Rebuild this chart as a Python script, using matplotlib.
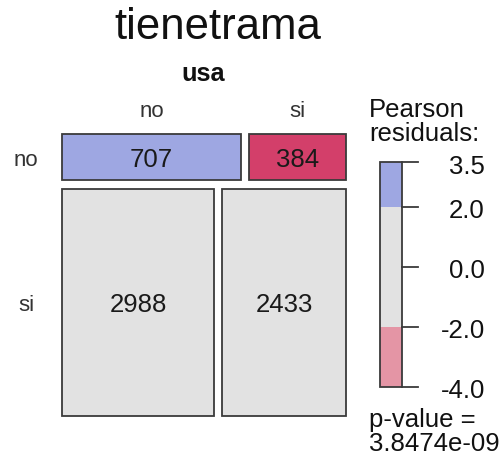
import numpy as np
import matplotlib
matplotlib.use("Agg")
import matplotlib.pyplot as plt
from matplotlib.patches import Rectangle

plt.rcParams['font.family'] = ['Liberation Sans', 'DejaVu Sans']

# data: rows = tienetrama, cols = usa
row_levels = ['no', 'si']
col_levels = ['no', 'si']
counts = np.array([[707, 384],
                   [2988, 2433]])
legend_ticks = [3.5, 2.0, 0.0, -2.0, -4.0]
p_value_text = '3.8474e-09'

# Pearson residuals
total = counts.sum()
expected = np.outer(counts.sum(axis=1), counts.sum(axis=0)) / total
resid = (counts - expected) / np.sqrt(expected)

def shade(r):
    if r > 4:
        return '#2E5EAC'
    if r > 2:
        return '#9EA7E2'
    if r < -4:
        return '#D33F6A'
    if r < -2:
        return '#E495A5'
    return '#E2E2E2'

fig = plt.figure(figsize=(5.01, 4.59), dpi=100)
ax = fig.add_axes([0, 0, 1, 1])
ax.set_xlim(0, 501)
ax.set_ylim(459, 0)
ax.axis('off')

# mosaic area (pixel frame)
x0, x1 = 62, 346
y0, y1 = 134, 416
gx, gy = 8, 9
edge = '#3a3a3a'

row_tot = counts.sum(axis=1)
hs = (y1 - y0 - gy * (len(row_levels) - 1)) * row_tot / row_tot.sum()
yy = y0
for i, rl in enumerate(row_levels):
    ws = (x1 - x0 - gx * (len(col_levels) - 1)) * counts[i] / counts[i].sum()
    xx = x0
    for j in range(len(col_levels)):
        ax.add_patch(Rectangle((xx, yy), ws[j], hs[i], facecolor=shade(resid[i, j]),
                               edgecolor=edge, linewidth=1.3))
        ax.text(xx + ws[j] / 2, yy + hs[i] / 2 + 10, str(counts[i, j]), ha='center',
                va='baseline', fontsize=18.5, color='#1a1a1a')
        if i == 0:
            ax.text(xx + ws[j] / 2, 117, col_levels[j], ha='center', va='baseline',
                    fontsize=16, color='#333333')
        xx += ws[j] + gx
    ax.text(26, yy + hs[i] / 2 + 9, rl, ha='center', va='baseline', fontsize=16,
            color='#333333')
    yy += hs[i] + gy

ax.text(218, 39, 'tienetrama', ha='center', va='baseline', fontsize=31.5, color='#111111')
ax.text(203, 81, 'usa', ha='center', va='baseline', fontsize=18.3, fontweight='bold',
        color='#111111')

# legend
lx0, lx1 = 380, 402
ly0, ly1 = 162, 387
rmax, rmin = legend_ticks[0], legend_ticks[-1]
def ly(v):
    return ly0 + (rmax - v) / (rmax - rmin) * (ly1 - ly0)

bands = [(rmax, 2.0, '#9EA7E2'), (2.0, -2.0, '#E2E2E2'), (-2.0, rmin, '#E495A5')]
for top, bot, c in bands:
    ax.add_patch(Rectangle((lx0, ly(top)), lx1 - lx0, ly(bot) - ly(top),
                           facecolor=c, edgecolor='none'))
ax.add_patch(Rectangle((lx0, ly0), lx1 - lx0, ly1 - ly0, facecolor='none',
                       edgecolor=edge, linewidth=1.3))
for t in legend_ticks:
    ax.plot([lx1, 418], [ly(t), ly(t)], color=edge, linewidth=1.3)
    ax.text(485, ly(t) + 2, f'{t:.1f}', ha='right', va='center_baseline', fontsize=18.5,
            color='#111111')

ax.text(369, 117, 'Pearson', ha='left', va='baseline', fontsize=18.5, color='#111111')
ax.text(369, 141, 'residuals:', ha='left', va='baseline', fontsize=18.5, color='#111111')
ax.text(369, 427, 'p-value =', ha='left', va='baseline', fontsize=18.5, color='#111111')
ax.text(369, 451, p_value_text, ha='left', va='baseline', fontsize=18.5, color='#111111')

fig.savefig('out.png', dpi=100)
